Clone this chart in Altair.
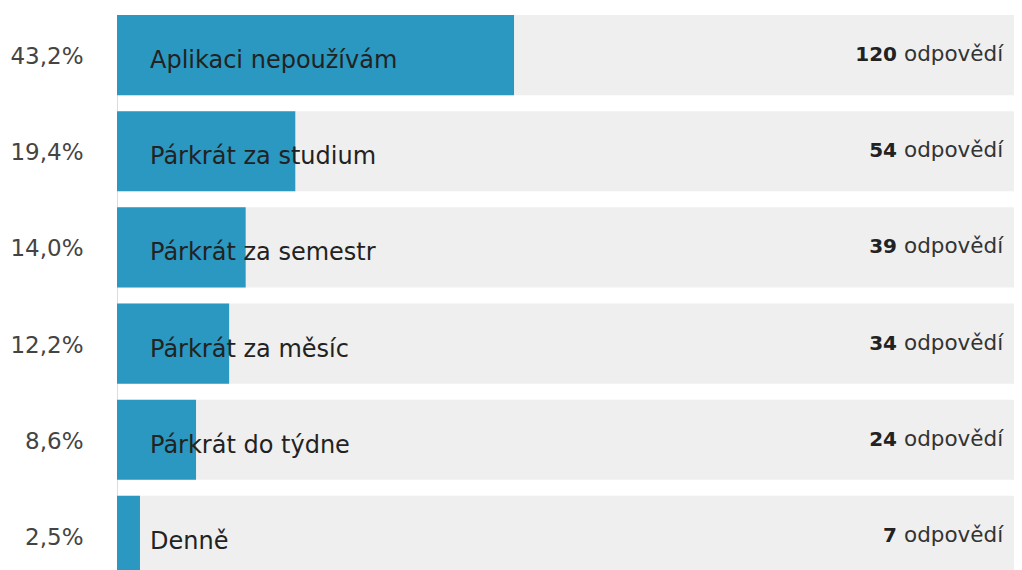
import altair as alt
import pandas as pd

categories = ["Aplikaci nepoužívám", "Párkrát za studium", "Párkrát za semestr",
              "Párkrát za měsíc", "Párkrát do týdne", "Denně"]
percents = [43.2, 19.4, 14.0, 12.2, 8.6, 2.5]
pct_labels = ["43,2%", "19,4%", "14,0%", "12,2%", "8,6%", "2,5%"]
counts = [120, 54, 39, 34, 24, 7]
total_pct = [100, 100, 100, 100, 100, 100]

df = pd.DataFrame({
    "cat": categories,
    "pct": percents,
    "plabel": pct_labels,
    "count": [str(c) for c in counts],
    "total": total_pct,
    "word": ["odpovědí"] * len(categories),
})

FONT = "DejaVu Sans"
y_enc = alt.Y(
    "plabel:N",
    sort=pct_labels,
    scale=alt.Scale(range=[0, 561], paddingInner=0.1667, paddingOuter=0),
    axis=alt.Axis(title=None, domain=False, ticks=False, labelPadding=34,
                  labelFont=FONT, labelFontSize=23, labelColor="#444444",
                  labelBaseline="alphabetic", labelOffset=9),
)
x_scale = alt.Scale(domain=[0, 97.6], nice=False, zero=True)

base = alt.Chart(df)

bg = base.mark_bar(color="#efefef", clip=True).encode(
    x=alt.X("total:Q", scale=x_scale, axis=None),
    y=y_enc,
)
fg = base.mark_bar(color="#2a98c0", clip=True).encode(
    x=alt.X("pct:Q", scale=x_scale, axis=None),
    y=y_enc,
)
cat_text = base.mark_text(align="left", baseline="alphabetic", dy=13, font=FONT,
                          fontSize=24, color="#222222", clip=True).encode(
    x=alt.value(33), y=y_enc, text="cat:N")
num_text = base.mark_text(align="right", baseline="alphabetic", dy=6, font=FONT,
                          fontSize=20, fontWeight="bold", color="#222222",
                          clip=True).encode(
    x=alt.value(780), y=y_enc, text="count:N")
word_text = base.mark_text(align="left", baseline="alphabetic", dy=6, font=FONT,
                           fontSize=21.5, color="#333333", clip=True).encode(
    x=alt.value(787), y=y_enc, text="word:N")

chart = alt.layer(bg, fg, cat_text, num_text, word_text).properties(
    width=897, height=555, autosize="none",
    padding={"left": 109, "top": 7, "right": 0, "bottom": 0},
).configure_view(stroke=None).configure(background="white")

chart.save("out.html", embed_options={"renderer": "svg", "actions": False})
